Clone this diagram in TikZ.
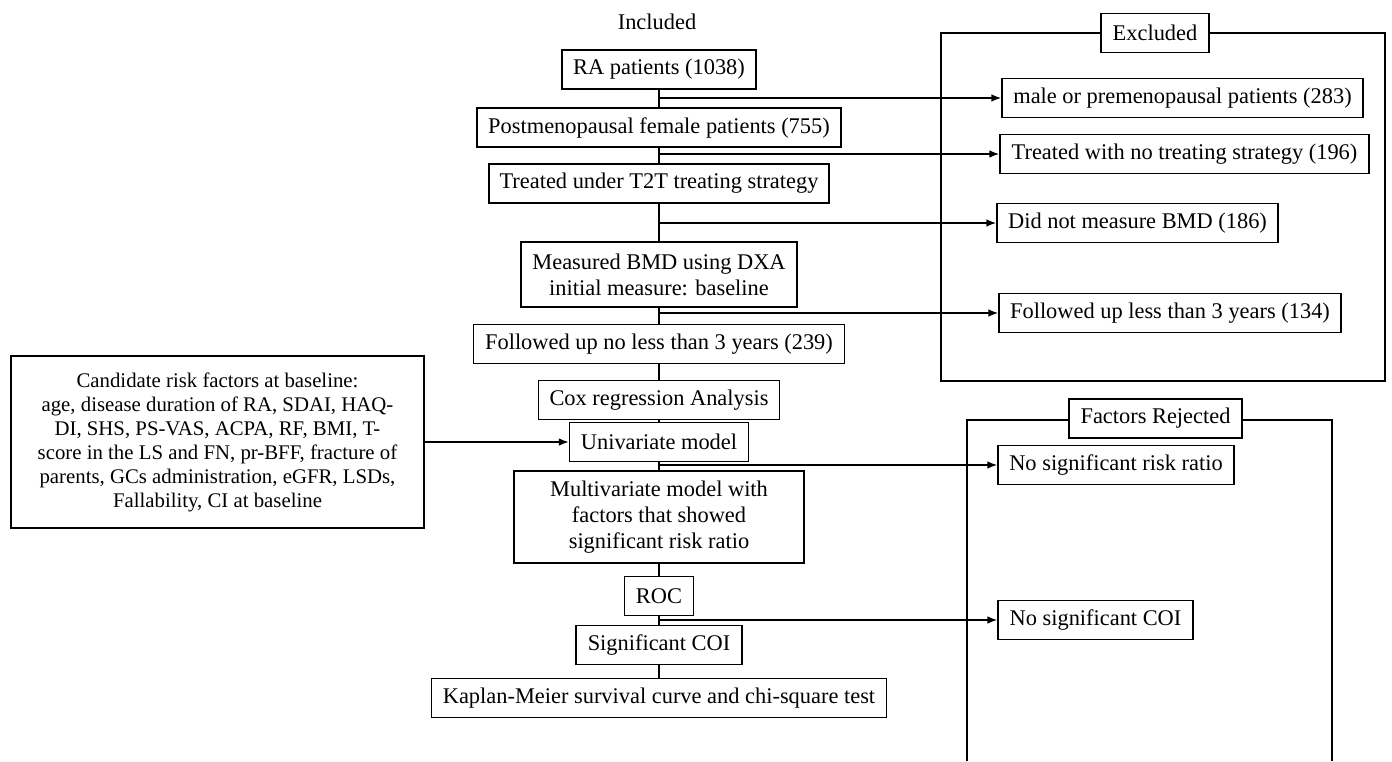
\documentclass[tikz,border=0pt]{standalone}
\usepackage{fontspec}
\setmainfont{Liberation Serif}
\usetikzlibrary{arrows.meta}
\begin{document}
\begin{tikzpicture}[x=0.5pt,y=-0.5pt,
  box/.style={draw, line width=0.6pt, inner sep=0pt, minimum height=19.5pt, align=center,
    font=\fontsize{11.2pt}{13pt}\selectfont},
  lbl/.style={box, fill=white},
  link/.style={line width=0.6pt},
  arr/.style={line width=0.8pt, -{Latex[length=5pt,width=3.8pt]}},
  frame/.style={line width=0.9pt}]
\useasboundingbox (0,0) rectangle (1392,761);
% containers
\draw[frame] (941,33) rectangle (1385,381);
\draw[frame] (967,761) -- (967,420) -- (1332,420) -- (1332,761);
\node[lbl, minimum width=54pt] (excl) at (1155,33) {Excluded};
\node[lbl, minimum width=86.5pt] (frej) at (1155.5,418.5) {Factors Rejected};
% title
\node[font=\fontsize{11.2pt}{13pt}\selectfont] (incl) at (657,22) {Included};
% main column
\node[box, minimum width=97pt] (ra) at (659,69.5) {RA patients (1038)};
\node[box, minimum width=182pt] (post) at (659,127.5) {Postmenopausal female patients (755)};
\node[box, minimum width=170pt] (t2t) at (659,183.5) {Treated under T2T treating strategy};
\node[box, minimum width=138pt, minimum height=32.5pt] (bmd) at (659,274.5) {Measured BMD using DXA\\initial measure: baseline};
\node[box, minimum width=185.5pt] (fu) at (659,344) {Followed up no less than 3 years (239)};
\node[box, minimum width=120.5pt] (cox) at (659,400) {Cox regression Analysis};
\node[box, minimum width=89.5pt] (uni) at (659,442) {Univariate model};
\node[box, minimum width=145pt, minimum height=46pt] (multi) at (659,517) {Multivariate model with\\factors that showed\\significant risk ratio};
\node[box, minimum width=34.5pt] (roc) at (659,596) {ROC};
\node[box, minimum width=83pt] (coi) at (659,645) {Significant COI};
\node[box, minimum width=227.5pt] (km) at (659,698) {Kaplan-Meier survival curve and chi-square test};
% candidate box
\node[box, minimum width=206.5pt, minimum height=86pt, font=\fontsize{10.4pt}{12pt}\selectfont] (cand) at (217.5,442)
  {Candidate risk factors at baseline:\\age, disease duration of RA, SDAI, HAQ-\\DI, SHS, PS-VAS, ACPA, RF, BMI, T-\\score in the LS and FN, pr-BFF, fracture of\\parents, GCs administration, eGFR, LSDs,\\Fallability, CI at baseline};
% excluded boxes
\node[box, minimum width=180.5pt] (male) at (1182.5,98) {male or premenopausal patients (283)};
\node[box, minimum width=184.5pt] (nostrat) at (1184.5,154) {Treated with no treating strategy (196)};
\node[box, minimum width=140.5pt] (nobmd) at (1137.5,223) {Did not measure BMD (186)};
\node[box, minimum width=171pt] (less) at (1170,313) {Followed up less than 3 years (134)};
\node[box, minimum width=118pt] (norr) at (1116,465) {No significant risk ratio};
\node[box, minimum width=97.5pt] (nocoi) at (1095.5,620) {No significant COI};
% spine
\draw[link] (ra) -- (post);
\draw[link] (post) -- (t2t);
\draw[link] (t2t) -- (bmd);
\draw[link] (bmd) -- (fu);
\draw[link] (fu) -- (cox);
\draw[link] (cox) -- (uni);
\draw[link] (uni) -- (multi);
\draw[link] (multi) -- (roc);
\draw[link] (roc) -- (coi);
\draw[link] (coi) -- (km);
% branches
\draw[arr] (ra.south |- male.west) -- (male.west);
\draw[arr] (ra.south |- nostrat.west) -- (nostrat.west);
\draw[arr] (ra.south |- nobmd.west) -- (nobmd.west);
\draw[arr] (ra.south |- less.west) -- (less.west);
\draw[arr] (ra.south |- norr.west) -- (norr.west);
\draw[arr] (ra.south |- nocoi.west) -- (nocoi.west);
\draw[arr] (cand.east |- uni.west) -- (uni.west);
\end{tikzpicture}
\end{document}
